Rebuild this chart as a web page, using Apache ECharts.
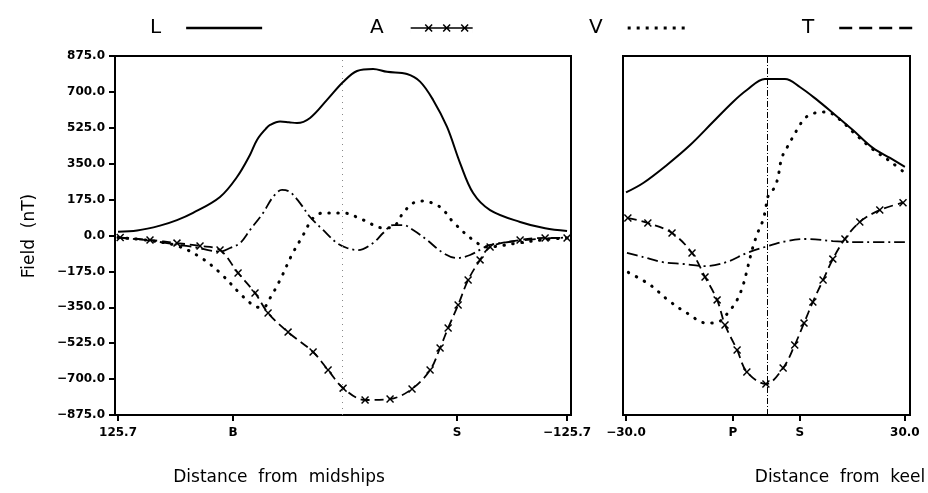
<!DOCTYPE html>
<html>
<head>
<meta charset="utf-8">
<script src="https://cdn.jsdelivr.net/npm/echarts@6/dist/echarts.min.js"></script>
<style>html,body{margin:0;padding:0;background:#fff}#c{width:928px;height:493px}</style>
</head>
<body>
<div id="c"></div>
<script>
// ---------- data ----------
const yTickMin = -875, yTickMax = 875, yTickStep = 175;
const leftTickValues = [125.7, 61.3, -64.1, -125.7];
const leftTickLabels = ['125.7', 'B', 'S', '\u2212125.7'];
const rightTickValues = [-30, -7, 7.4, 30];
const rightTickLabels = ['\u221230.0', 'P', 'S', '30.0'];
const midshipsLine = 0;
const keelLine = 0.3;
const seriesNames = ['L', 'A', 'V', 'T'];

const leftL = [[125.7,18],[115,24],[102.2,48],[92.7,75],[83.7,110],[68.6,188],[59.1,285],[52,390],[47.9,466],[43,520],[40.6,539],[35.0,556],[30,552],[25.5,548],[18.2,573],[8.7,661],[-0.3,748],[-8.1,802],[-17.1,812],[-24.9,798],[-36.1,787],[-43.4,750],[-50.7,661],[-58.5,529],[-65.8,353],[-73.1,207],[-82.6,124],[-99.4,66],[-113.4,35],[-125.7,22]];
const leftA = [[124.5,-10],[107.8,-22],[92.7,-37],[79.8,-51],[68.6,-71],[58.5,-183],[49.0,-280],[41.7,-378],[30.5,-471],[16.5,-568],[8.1,-656],[-0.3,-744],[-12.6,-802],[-26.6,-797],[-38.9,-748],[-49.0,-656],[-54.6,-548],[-59.1,-451],[-64.7,-339],[-70.3,-217],[-77.0,-119],[-82.6,-56],[-99.4,-22],[-113.4,-12],[-125.7,-12]];
const leftV = [[125.7,-10],[107.8,-25],[92.7,-50],[79.8,-105],[68.6,-182],[55.7,-298],[49.0,-345],[44.5,-352],[40.6,-305],[35.0,-217],[28.3,-93],[22.7,-8],[16.5,85],[10.9,110],[-0.3,110],[-11.5,76],[-22.7,37],[-28.3,42],[-33.9,110],[-39.5,158],[-44.5,168],[-54.6,139],[-61.9,66],[-73.1,-22],[-81.0,-56],[-99.4,-35],[-113.4,-20],[-125.7,-12]];
const leftT = [[125.7,-10],[107.8,-25],[92.7,-45],[83.7,-56],[68.6,-78],[63.0,-61],[57.4,-37],[51.8,27],[44.5,110],[38.9,188],[33.9,222],[29.4,212],[23.8,158],[18.2,90],[10.9,27],[3.1,-37],[-2.5,-61],[-8.7,-71],[-17.1,-37],[-22.7,12],[-28.3,51],[-33.9,51],[-39.5,27],[-47.3,-22],[-56.3,-85],[-64.1,-110],[-71.4,-95],[-78.7,-61],[-82.6,-46],[-99.4,-25],[-113.4,-15],[-125.7,-10]];

const rightL = [[-30,210],[-26.3,256],[-21.2,344],[-16.2,441],[-11.3,553],[-7.0,651],[-4.0,709],[-0.1,763],[4.2,763],[7.4,724],[11.1,661],[14.5,597],[18.8,514],[23.1,427],[26.8,378],[30,335]];
const rightA = [[-29.6,85],[-25.3,61],[-20.1,12],[-15.8,-85],[-13.0,-202],[-10.4,-314],[-8.7,-436],[-6.1,-558],[-4.0,-665],[0.1,-724],[3.8,-646],[6.3,-534],[8.3,-427],[10.2,-324],[12.4,-217],[14.5,-115],[17.1,-17],[20.3,66],[24.6,124],[29.6,160]];
const rightV = [[-29.5,-180],[-24.8,-241],[-21.0,-314],[-16.9,-378],[-12.6,-427],[-10.2,-422],[-8.1,-378],[-6.1,-314],[-4.8,-241],[-3.8,-154],[-2.7,-56],[-1.6,17],[-0.5,76],[0.1,139],[0.5,188],[2.0,236],[2.7,285],[3.5,378],[4.6,427],[5.9,480],[7.4,539],[8.5,573],[10.6,597],[13.2,602],[16,565],[18.8,505],[23.1,420],[26.8,362],[30,305]];
const rightT = [[-29.8,-85],[-26.3,-105],[-22.3,-129],[-17.7,-139],[-13.0,-149],[-8.3,-129],[-4.0,-85],[-0.1,-56],[4.6,-27],[8.9,-17],[14.5,-27],[18.8,-32],[24.6,-32],[29.6,-32],[30,-32]];

// ---------- styles ----------
const FONT = 'DejaVu Sans';
function xPath(cx, cy, r, t) {
  return `M${cx-r},${cy-r+t} L${cx-r+t},${cy-r} L${cx},${cy-t} L${cx+r-t},${cy-r} L${cx+r},${cy-r+t} L${cx+t},${cy} L${cx+r},${cy+r-t} L${cx+r-t},${cy+r} L${cx},${cy+t} L${cx-r+t},${cy+r} L${cx-r},${cy+r-t} L${cx-t},${cy} Z`;
}
const xMarker = 'path://' + xPath(5,5,5,1.3);
const iconL = 'path://M0,0 H76 V2.5 H0 Z';
const iconA = 'path://M0,4.2 H62 V5.8 H0 Z ' + xPath(18,5,4,1.1) + ' ' + xPath(36,5,4,1.1) + ' ' + xPath(54,5,4,1.1) + ' M0,0 H0.01 V10 H0 Z M61.99,0 H62 V10 H61.99 Z';
let vp = '';
for (let i = 0; i < 7; i++) { const x = i*9; vp += `M${x},0 H${x+3} V3 H${x} Z `; }
const iconV = 'path://' + vp;
let tp = '';
for (let i = 0; i < 4; i++) { const x = i*20; tp += `M${x},0 H${x+13} V2.5 H${x} Z `; }
const iconT = 'path://' + tp;

const lineStyles = {
  L: {color:'#000', width:2, type:'solid'},
  A: {color:'#000', width:1.8, type:[9,5]},
  V: {color:'#000', width:3, type:[0.5,8.5], cap:'round'},
  T: {color:'#000', width:1.8, type:[11,4,2,4]}
};

function mkSeries(name, data, xi, extra) {
  const s = {
    name, type:'line', xAxisIndex:xi, yAxisIndex:xi, data,
    smooth:0.35, symbol:'none', lineStyle: lineStyles[name], itemStyle:{color:'#000'},
    silent:true, z: 3
  };
  if (name === 'A') { s.symbol = xMarker; s.symbolSize = 8; s.showSymbol = true; s.showAllSymbol = true; }
  return Object.assign(s, extra || {});
}

const yFmt = v => (v < 0 ? '\u2212' : '') + Math.abs(v).toFixed(1);

const axisLineStyle = {show:true, onZero:false, lineStyle:{color:'#000', width:2}};
const tickStyle = {color:'#000', width:2};
const labelFont = {color:'#000', fontFamily:FONT, fontWeight:'bold', fontSize:12};

const option = {
  animation:false,
  backgroundColor:'#fff',
  textStyle:{fontFamily:FONT},
  grid:[
    {left:115, top:56, width:456, height:359, show:true, borderColor:'#000', borderWidth:2, containLabel:false},
    {left:623, top:56, width:287, height:359, show:true, borderColor:'#000', borderWidth:2, containLabel:false}
  ],
  xAxis:[
    {
      type:'value', gridIndex:0, min:-127.9, max:127.4, inverse:true,
      axisLine:axisLineStyle, splitLine:{show:false},
      axisTick:{show:true, length:6, lineStyle:tickStyle, customValues:leftTickValues},
      axisLabel:Object.assign({show:true, customValues:leftTickValues, margin:12,
        formatter: v => { const i = leftTickValues.indexOf(v); return i >= 0 ? leftTickLabels[i] : ''; }}, labelFont)
    },
    {
      type:'value', gridIndex:1, min:-30.65, max:31.1,
      axisLine:axisLineStyle, splitLine:{show:false},
      axisTick:{show:true, length:6, lineStyle:tickStyle, customValues:rightTickValues},
      axisLabel:Object.assign({show:true, customValues:rightTickValues, margin:12,
        formatter: v => { const i = rightTickValues.indexOf(v); return i >= 0 ? rightTickLabels[i] : ''; }}, labelFont)
    }
  ],
  yAxis:[
    {
      type:'value', gridIndex:0, min:yTickMin, max:yTickMax, interval:yTickStep,
      axisLine:axisLineStyle, splitLine:{show:false},
      axisTick:{show:true, length:6, lineStyle:tickStyle},
      axisLabel:Object.assign({show:true, margin:10, formatter:yFmt}, labelFont)
    },
    {
      type:'value', gridIndex:1, min:yTickMin, max:yTickMax, interval:yTickStep,
      axisLine:axisLineStyle, splitLine:{show:false},
      axisTick:{show:false}, axisLabel:{show:false}
    }
  ],
  legend:[
    {data:[{name:'L', icon:iconL}], left:145, top:13, itemWidth:76, itemHeight:2.5, align:'right', selectedMode:false,
      textStyle:{fontSize:20, color:'#000', fontFamily:FONT, padding:[0,20,0,0]}},
    {data:[{name:'A', icon:iconA}], left:365, top:13, itemWidth:62, itemHeight:10, align:'right', selectedMode:false,
      textStyle:{fontSize:20, color:'#000', fontFamily:FONT, padding:[0,22,0,0]}},
    {data:[{name:'V', icon:iconV}], left:584, top:13, itemWidth:57, itemHeight:3, align:'right', selectedMode:false,
      textStyle:{fontSize:20, color:'#000', fontFamily:FONT, padding:[0,20,0,0]}},
    {data:[{name:'T', icon:iconT}], left:797, top:13, itemWidth:73, itemHeight:2.5, align:'right', selectedMode:false,
      textStyle:{fontSize:20, color:'#000', fontFamily:FONT, padding:[0,20,0,0]}}
  ],
  graphic:[
    {type:'text', x:30, y:236, rotation:Math.PI/2, style:{text:'Field  (nT)', x:0, y:0, align:'center', verticalAlign:'middle', fontSize:17, fontFamily:FONT, fill:'#000'}},
    {type:'text', x:279, y:478, style:{text:'Distance  from  midships', x:0, y:0, align:'center', verticalAlign:'middle', fontSize:17, fontFamily:FONT, fill:'#000'}},
    {type:'text', x:840, y:478, style:{text:'Distance  from  keel', x:0, y:0, align:'center', verticalAlign:'middle', fontSize:17, fontFamily:FONT, fill:'#000'}}
  ],
  series:[
    mkSeries('L', leftL, 0, {markLine:{silent:true, symbol:'none', label:{show:false}, lineStyle:{color:'#888', width:1, type:[1,5]}, data:[{xAxis:midshipsLine}]}}),
    mkSeries('A', leftA, 0),
    mkSeries('V', leftV, 0),
    mkSeries('T', leftT, 0),
    mkSeries('L', rightL, 1, {markLine:{silent:true, symbol:'none', label:{show:false}, lineStyle:{color:'#000', width:1, type:[6,2,1,2]}, data:[{xAxis:keelLine}]}}),
    mkSeries('A', rightA, 1),
    mkSeries('V', rightV, 1),
    mkSeries('T', rightT, 1)
  ]
};
const chart = echarts.init(document.getElementById('c'), null, {renderer:'canvas'});
chart.setOption(option);
</script>
</body>
</html>
